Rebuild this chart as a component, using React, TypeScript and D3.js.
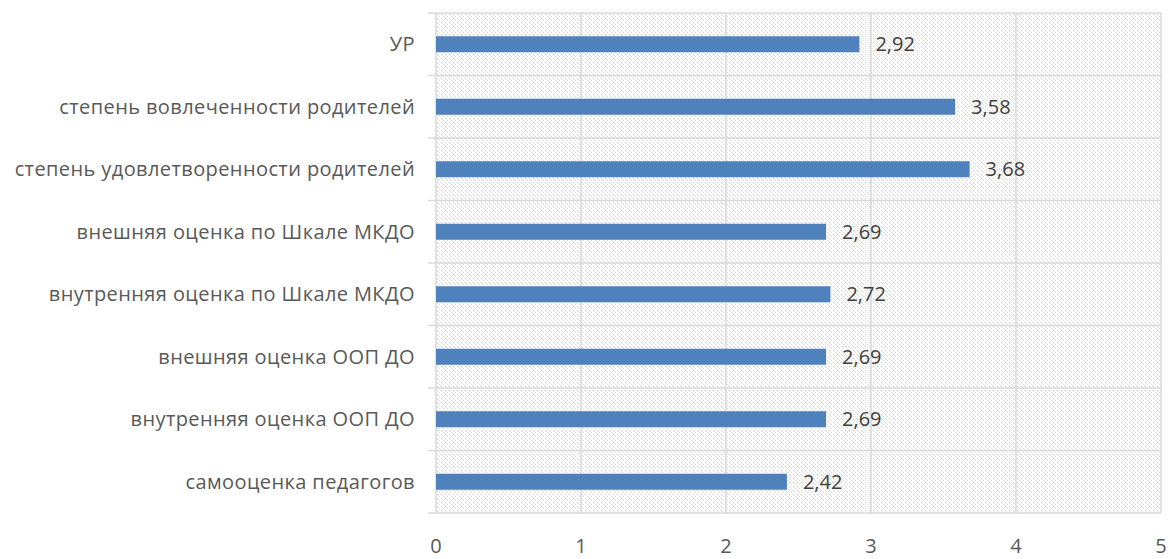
import { useEffect, useRef } from 'react';
import * as d3 from 'd3';

const categories = [
  'УР',
  'степень вовлеченности родителей',
  'степень удовлетворенности родителей',
  'внешняя оценка по Шкале МКДО',
  'внутренняя оценка по Шкале МКДО',
  'внешняя оценка ООП ДО',
  'внутренняя оценка ООП ДО',
  'самооценка педагогов',
];
const values = [2.92, 3.58, 3.68, 2.69, 2.72, 2.69, 2.69, 2.42];
const xTicks = [0, 1, 2, 3, 4, 5];

function App() {
  const svgRef = useRef<SVGSVGElement>(null);

  useEffect(() => {
    const W = 1171;
    const H = 559;
    const margin = { top: 13, right: 10, bottom: 46, left: 436 };
    const width = W - margin.left - margin.right;
    const height = H - margin.top - margin.bottom;

    d3.select(svgRef.current).selectAll('*').remove();
    const root = d3.select(svgRef.current).attr('width', W).attr('height', H);

    // hatch pattern for plot background
    const defs = root.append('defs');
    const pat = defs
      .append('pattern')
      .attr('id', 'hatch')
      .attr('patternUnits', 'userSpaceOnUse')
      .attr('width', 4)
      .attr('height', 4);
    pat
      .append('path')
      .attr('d', 'M-1,-1 L5,5 M-1,3 L1,5 M3,-1 L5,1')
      .attr('stroke', '#c6c6c6')
      .attr('stroke-width', 1)
      .attr('stroke-dasharray', '1.5,1');

    const svg = root.append('g').attr('transform', `translate(${margin.left},${margin.top})`);

    const x = d3.scaleLinear().domain([0, 5]).range([0, width]);
    const y = d3.scaleBand().domain(categories).range([0, height]).paddingInner(0.744).paddingOuter(0.372);
    const step = height / categories.length;

    svg.append('rect').attr('width', width).attr('height', height).attr('fill', 'url(#hatch)');

    // vertical grid
    svg
      .selectAll('line.vgrid')
      .data(xTicks)
      .enter()
      .append('line')
      .attr('class', 'vgrid')
      .attr('x1', (d) => x(d))
      .attr('x2', (d) => x(d))
      .attr('y1', 0)
      .attr('y2', height)
      .attr('stroke', '#d9d9d9')
      .attr('stroke-width', 1.5);

    // horizontal category lines
    svg
      .selectAll('line.hgrid')
      .data(d3.range(categories.length + 1))
      .enter()
      .append('line')
      .attr('class', 'hgrid')
      .attr('x1', -8)
      .attr('x2', width)
      .attr('y1', (i) => i * step)
      .attr('y2', (i) => i * step)
      .attr('stroke', '#d9d9d9')
      .attr('stroke-width', 1.5);

    const font = '"Open Sans", sans-serif';

    // bars
    svg
      .selectAll('rect.bar')
      .data(values)
      .enter()
      .append('rect')
      .attr('class', 'bar')
      .attr('x', x(0))
      .attr('y', (d, i) => y(categories[i])!)
      .attr('width', (d) => x(d) - x(0))
      .attr('height', y.bandwidth())
      .attr('fill', '#4f81bd');

    // value labels
    svg
      .selectAll('text.val')
      .data(values)
      .enter()
      .append('text')
      .attr('class', 'val')
      .attr('x', (d) => x(d) + 16)
      .attr('y', (d, i) => y(categories[i])! + y.bandwidth() / 2)
      .attr('dy', '0.35em')
      .style('font-family', font)
      .style('font-size', '20px')
      .style('fill', '#404040')
      .text((d) => d.toFixed(2).replace('.', ','));

    // category labels
    svg
      .selectAll('text.cat')
      .data(categories)
      .enter()
      .append('text')
      .attr('class', 'cat')
      .attr('x', -21)
      .attr('y', (d) => y(d)! + y.bandwidth() / 2)
      .attr('dy', '0.35em')
      .attr('text-anchor', 'end')
      .style('font-family', font)
      .style('font-size', '20px')
      .style('letter-spacing', '0.4px')
      .style('fill', '#595959')
      .text((d) => d);

    // x tick labels
    svg
      .selectAll('text.xt')
      .data(xTicks)
      .enter()
      .append('text')
      .attr('class', 'xt')
      .attr('x', (d) => x(d))
      .attr('y', height + 40)
      .attr('text-anchor', 'middle')
      .style('font-family', font)
      .style('font-size', '20px')
      .style('fill', '#595959')
      .text((d) => String(d));
  }, []);

  return (
    <div style={{ position: 'absolute', left: 0, top: 0 }}>
      <svg ref={svgRef}></svg>
    </div>
  );
}

export default App;
